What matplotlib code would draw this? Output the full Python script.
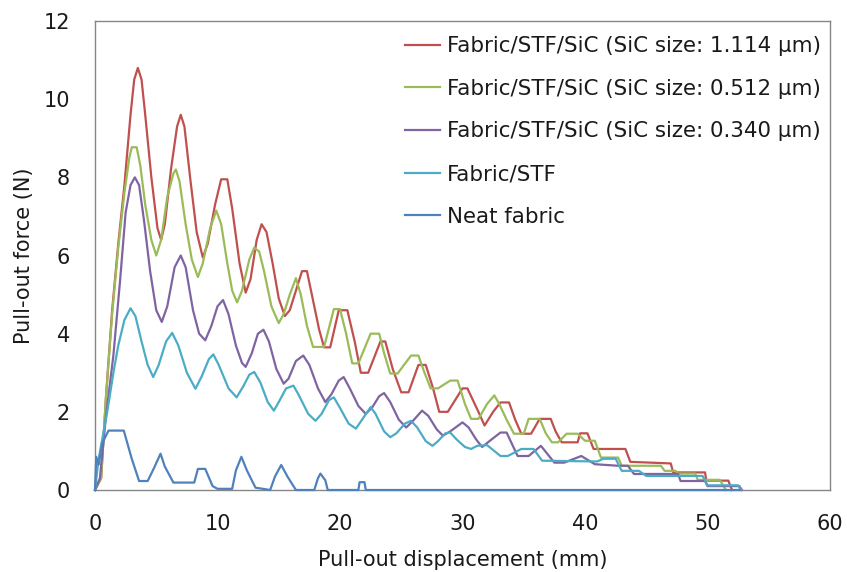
import matplotlib
matplotlib.use("Agg")
import matplotlib.pyplot as plt

plt.rcParams['font.family'] = ['DejaVu Sans']

# Pull-out curves: displacement (mm) and force (N) for each specimen
red_x = [0, 0.5, 0.9, 1.4, 1.9, 2.4, 2.9, 3.2, 3.5, 3.8, 4.1, 4.6, 5.1, 5.4, 5.7, 6.2,
         6.7, 7.0, 7.3, 7.8, 8.3, 8.8, 9.2, 9.8, 10.3, 10.8, 11.2, 11.8, 12.3, 12.7,
         13.2, 13.6, 14.0, 14.5, 15.0, 15.5, 15.9, 16.4, 16.9, 17.3, 17.7, 18.3, 18.7,
         19.2, 19.9, 20.6, 21.2, 21.7, 22.3, 23.3, 23.7, 24.3, 25.0, 25.6, 26.4, 27.0,
         27.6, 28.1, 28.8, 30.0, 30.4, 31.3, 31.8, 32.5, 33.1, 33.8, 34.3, 34.8, 35.6,
         36.3, 37.2, 37.6, 38.1, 39.4, 39.6, 40.2, 40.7, 43.3, 43.7, 47.0, 47.2, 49.8,
         49.9, 51.7, 52.0]
red_y = [0, 0.3, 2.4, 4.6, 6.3, 7.8, 9.6, 10.5, 10.8, 10.5, 9.6, 8.0, 6.7, 6.4, 6.8, 8.2,
         9.3, 9.6, 9.3, 7.9, 6.6, 5.95, 6.3, 7.3, 7.95, 7.95, 7.2, 5.8, 5.05, 5.4,
         6.4, 6.8, 6.6, 5.8, 4.9, 4.45, 4.6, 5.1, 5.6, 5.6, 5.0, 4.1, 3.65,
         3.65, 4.6, 4.6, 3.8, 3.0, 3.0, 3.8, 3.8, 3.1, 2.5, 2.5, 3.2, 3.2,
         2.6, 2.0, 2.0, 2.6, 2.6, 2.0, 1.65, 2.0, 2.24, 2.24, 1.8, 1.44, 1.44,
         1.82, 1.82, 1.5, 1.22, 1.22, 1.45, 1.45, 1.05, 1.05, 0.72, 0.68, 0.45, 0.45,
         0.24, 0.24, 0.0]

green_x = [0, 0.5, 0.9, 1.4, 1.9, 2.4, 2.8, 3.0, 3.4, 3.7, 4.1, 4.6, 5.0, 5.4, 5.9, 6.4,
           6.6, 6.9, 7.4, 7.9, 8.4, 8.8, 9.4, 9.9, 10.3, 10.8, 11.2, 11.6, 12.0, 12.6,
           13.0, 13.4, 13.8, 14.4, 15.0, 15.4, 15.9, 16.4, 16.8, 17.3, 17.8, 18.7,
           19.5, 20.0, 20.5, 21.0, 21.5, 22.5, 23.2, 23.6, 24.1, 24.7, 25.8, 26.4,
           26.9, 27.4, 28.0, 29.0, 29.6, 30.2, 30.7, 31.3, 32.0, 32.6, 33.0, 33.6, 34.2,
           35.0, 35.4, 36.3, 36.8, 37.3, 37.8, 38.5, 39.4, 40.0, 40.8, 41.3, 42.7, 43.0,
           46.2, 46.5, 47.4, 47.6, 49.0, 49.2, 51.0, 51.5]
green_y = [0, 0.3, 2.4, 4.5, 6.2, 7.6, 8.5, 8.77, 8.77, 8.3, 7.3, 6.4, 6.0, 6.4, 7.5, 8.1,
           8.2, 7.9, 6.8, 5.9, 5.45, 5.8, 6.7, 7.15, 6.8, 5.8, 5.1, 4.8, 5.1, 5.9,
           6.2, 6.1, 5.6, 4.7, 4.27, 4.5, 5.0, 5.42, 5.0, 4.2, 3.66, 3.66,
           4.63, 4.63, 4.0, 3.24, 3.24, 4.0, 4.0, 3.5, 2.98, 2.98, 3.44, 3.44,
           3.0, 2.6, 2.6, 2.8, 2.8, 2.2, 1.82, 1.82, 2.2, 2.42, 2.2, 1.8, 1.44,
           1.44, 1.82, 1.82, 1.45, 1.22, 1.22, 1.44, 1.44, 1.26, 1.26, 0.83, 0.83, 0.62,
           0.62, 0.49, 0.49, 0.42, 0.42, 0.26, 0.26, 0.0]

purple_x = [0, 0.4, 0.9, 1.5, 2.05, 2.5, 2.9, 3.25, 3.6, 4.0, 4.5, 5.0, 5.45, 5.9, 6.5,
            7.0, 7.4, 8.0, 8.5, 9.0, 9.5, 10.0, 10.45, 10.9, 11.5, 12.0, 12.3, 12.8,
            13.3, 13.75, 14.2, 14.8, 15.4, 15.8, 16.4, 17.0, 17.5, 18.2, 18.8, 19.3,
            19.9, 20.3, 20.8, 21.5, 22.1, 22.6, 23.2, 23.6, 24.1, 24.8, 25.4, 25.9,
            26.7, 27.2, 27.9, 28.4, 29.0, 30.0, 30.5, 31.1, 31.6, 32.4, 33.1, 33.6,
            34.5, 35.4, 36.4, 37.5, 38.3, 39.7, 40.8, 42.7, 43.5, 44.0, 47.6, 47.8,
            49.8, 50.0, 52.6, 52.8]
purple_y = [0, 0.3, 1.9, 3.44, 5.37, 7.1, 7.8, 8.0, 7.8, 6.9, 5.6, 4.6, 4.3, 4.7, 5.7,
            6.0, 5.7, 4.6, 4.0, 3.83, 4.2, 4.7, 4.86, 4.5, 3.7, 3.25, 3.15, 3.5,
            4.0, 4.1, 3.8, 3.1, 2.72, 2.85, 3.3, 3.44, 3.2, 2.6, 2.25, 2.45,
            2.8, 2.89, 2.6, 2.15, 1.95, 2.1, 2.4, 2.48, 2.25, 1.8, 1.6, 1.75,
            2.03, 1.9, 1.55, 1.39, 1.5, 1.73, 1.6, 1.3, 1.1, 1.3, 1.47, 1.47,
            0.87, 0.87, 1.13, 0.7, 0.7, 0.87, 0.66, 0.62, 0.62, 0.41, 0.41, 0.23,
            0.23, 0.1, 0.1, 0.0]

cyan_x = [0, 0.3, 1.0, 1.5, 1.9, 2.4, 2.9, 3.3, 3.8, 4.3, 4.75, 5.2, 5.8, 6.3, 6.8,
          7.5, 8.2, 8.7, 9.3, 9.66, 10.1, 10.9, 11.56, 12.1, 12.6, 13.0, 13.5, 14.1,
          14.6, 15.0, 15.6, 16.2, 16.6, 17.4, 18.0, 18.5, 19.1, 19.5, 20.0, 20.7,
          21.3, 21.8, 22.5, 22.9, 23.6, 24.1, 24.6, 25.3, 25.8, 26.3, 27.0, 27.55,
          28.0, 28.6, 29.0, 29.5, 30.2, 30.7, 31.2, 32.0, 33.1, 33.7, 34.8, 35.8,
          36.5, 41.0, 41.5, 42.5, 43.0, 44.4, 45.0, 49.6, 50.0, 52.5, 52.7]
cyan_y = [0, 0.8, 2.0, 3.0, 3.7, 4.35, 4.65, 4.45, 3.8, 3.2, 2.89, 3.2, 3.8, 4.02, 3.7,
          3.0, 2.59, 2.9, 3.35, 3.47, 3.2, 2.6, 2.37, 2.65, 2.95, 3.02, 2.75, 2.25,
          2.03, 2.25, 2.6, 2.67, 2.45, 1.95, 1.77, 1.95, 2.3, 2.37, 2.1, 1.7,
          1.57, 1.8, 2.12, 1.95, 1.5, 1.35, 1.45, 1.7, 1.77, 1.6, 1.25, 1.13,
          1.25, 1.45, 1.47, 1.3, 1.1, 1.05, 1.13, 1.15, 0.87, 0.87, 1.05, 1.05,
          0.75, 0.73, 0.8, 0.8, 0.49, 0.49, 0.36, 0.36, 0.12, 0.12, 0.0]

neat_x = [0, 0.1, 0.3, 0.6, 1.1, 2.35, 3.0, 3.6, 4.3, 4.8, 5.35, 5.7, 6.4, 8.1, 8.4,
          9.0, 9.6, 10.0, 11.2, 11.5, 11.95, 12.4, 13.1, 14.3, 14.7, 15.2, 15.7, 16.4,
          17.9, 18.2, 18.4, 18.8, 19.0, 21.5, 21.6, 22.0, 22.1, 52.6]
neat_y = [0, 0.85, 0.65, 1.2, 1.52, 1.52, 0.8, 0.23, 0.23, 0.55, 0.93, 0.6, 0.19, 0.19, 0.54,
          0.54, 0.1, 0.03, 0.03, 0.5, 0.85, 0.5, 0.06, 0.0, 0.35, 0.64, 0.35, 0.0,
          0.0, 0.3, 0.42, 0.25, 0.0, 0.0, 0.2, 0.2, 0.0, 0.0]

labels = ["Fabric/STF/SiC (SiC size: 1.114 µm)",
          "Fabric/STF/SiC (SiC size: 0.512 µm)",
          "Fabric/STF/SiC (SiC size: 0.340 µm)",
          "Fabric/STF",
          "Neat fabric"]
colors = ["#C0504D", "#9BBB59", "#8064A2", "#4BACC6", "#4F81BD"]

x_ticks = [0, 10, 20, 30, 40, 50, 60]
y_ticks = [0, 2, 4, 6, 8, 10, 12]

FS = 15
TXT = '#1a1a1a'

fig = plt.figure(figsize=(8.47, 5.72), dpi=100)
ax = fig.add_axes([95 / 847, 1 - 490 / 572, 735 / 847, 469 / 572])

series = [(red_x, red_y), (green_x, green_y), (purple_x, purple_y),
          (cyan_x, cyan_y), (neat_x, neat_y)]
handles = []
for (xs, ys), lab, col in zip(series, labels, colors):
    h, = ax.plot(xs, ys, color=col, lw=1.6, label=lab, clip_on=False,
                 solid_joinstyle='round')
    handles.append(h)

ax.set_xlim(0, 60)
ax.set_ylim(0, 12)
ax.set_xticks(x_ticks)
ax.set_yticks(y_ticks)
ax.tick_params(length=0, labelsize=FS, colors=TXT)
ax.tick_params(axis='y', pad=18)
ax.tick_params(axis='x', pad=17)
for s in ax.spines.values():
    s.set_color('#868686')
    s.set_linewidth(1.0)
    s.set_zorder(0)

ax.set_xlabel("Pull-out displacement (mm)", fontsize=FS, color=TXT, labelpad=12)
ax.set_ylabel("Pull-out force (N)", fontsize=FS, color=TXT, labelpad=7)

leg = ax.legend(handles=handles, loc='upper left',
                bbox_to_anchor=(405 / 847, 1 - 36 / 572),
                bbox_transform=fig.transFigure, frameon=False, fontsize=15.4,
                handlelength=1.64, handletextpad=0.33, labelspacing=1.06,
                borderpad=0, borderaxespad=0)
for t in leg.get_texts():
    t.set_color(TXT)

fig.savefig("out.png", dpi=100)
